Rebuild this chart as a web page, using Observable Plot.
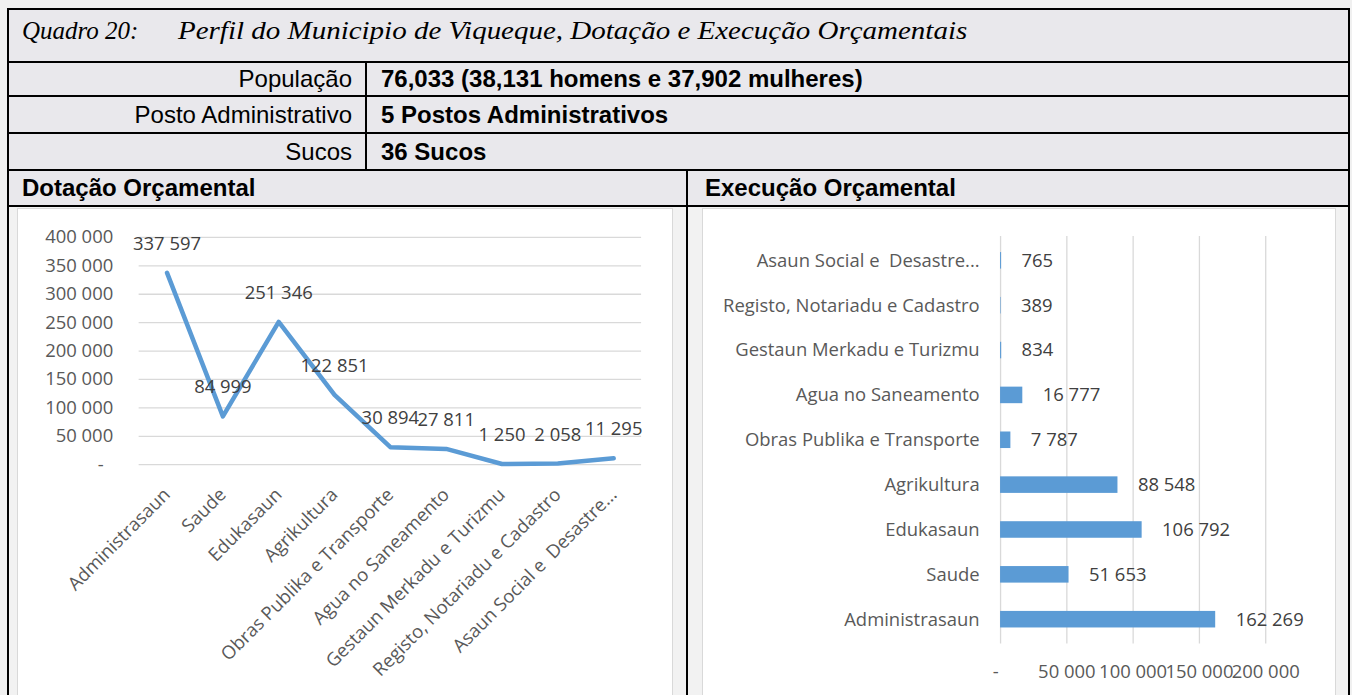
<!DOCTYPE html>
<html><head><meta charset="utf-8">
<script src="https://cdn.jsdelivr.net/npm/d3@7"></script>
<script src="https://cdn.jsdelivr.net/npm/@observablehq/plot@0.6"></script>
<style>
html,body{margin:0;padding:0;}
body{width:1352px;height:695px;overflow:hidden;position:relative;background:#f0f0f0;font-family:"Liberation Sans",Arial,sans-serif;color:#000;}
.a{position:absolute;box-sizing:border-box;}
.hl{position:absolute;height:2px;background:#000;}
.vl{position:absolute;width:2px;background:#000;}
.row{position:absolute;display:flex;align-items:center;font-size:24px;white-space:nowrap;}
.title{font-family:"Liberation Serif","Times New Roman",serif;font-style:italic;font-size:25px;}
.title span{display:inline-block;transform-origin:0 50%;}
.panel{position:absolute;background:#fff;border:1px solid #d9d9d9;box-sizing:border-box;}
</style></head>
<body>
<div class="a" style="left:7px;top:8px;width:1343px;height:198px;background:#e9e8ec;"></div>
<div class="a" style="left:7px;top:206px;width:1343px;height:500px;background:#f2f2f2;"></div>
<div class="hl" style="left:7px;top:8px;width:1343px;"></div>
<div class="hl" style="left:7px;top:61px;width:1343px;"></div>
<div class="hl" style="left:7px;top:95px;width:1343px;"></div>
<div class="hl" style="left:7px;top:132px;width:1343px;"></div>
<div class="hl" style="left:7px;top:169px;width:1343px;"></div>
<div class="hl" style="left:7px;top:205px;width:1343px;"></div>
<div class="vl" style="left:7px;top:8px;height:700px;"></div>
<div class="vl" style="left:1348px;top:8px;height:700px;"></div>
<div class="vl" style="left:365px;top:61px;height:110px;"></div>
<div class="vl" style="left:686px;top:169px;height:540px;"></div>

<div class="row title" style="left:22px;top:5px;height:51px;"><span>Quadro 20:</span><span style="position:absolute;left:156px;font-size:26px;transform:scaleX(1.115);">Perfil do Municipio de Viqueque, Dotação e Execução Orçamentais</span></div>

<div class="row" id="lab1" style="left:9px;width:343px;top:63px;height:32px;justify-content:flex-end;"></div>
<div class="row" id="val1" style="left:381px;top:63px;height:32px;font-weight:bold;"></div>
<div class="row" id="lab2" style="left:9px;width:343px;top:97px;height:35px;justify-content:flex-end;"></div>
<div class="row" id="val2" style="left:381px;top:97px;height:35px;font-weight:bold;"></div>
<div class="row" id="lab3" style="left:9px;width:343px;top:134px;height:35px;justify-content:flex-end;"></div>
<div class="row" id="val3" style="left:381px;top:134px;height:35px;font-weight:bold;"></div>
<div class="row" style="left:22px;top:171px;height:34px;font-weight:bold;">Dotação Orçamental</div>
<div class="row" style="left:705px;top:171px;height:34px;font-weight:bold;">Execução Orçamental</div>

<div class="panel" id="p1" style="left:17px;top:208px;width:656px;height:500px;"></div>
<div class="panel" id="p2" style="left:702px;top:208px;width:634px;height:500px;"></div>

<script>
// ---- data ----
const infoLabels = ["População", "Posto Administrativo", "Sucos"];
const infoValues = ["76,033 (38,131 homens e 37,902 mulheres)", "5 Postos Administrativos", "36 Sucos"];

const dotCats = ["Administrasaun","Saude","Edukasaun","Agrikultura","Obras Publika e Transporte","Agua no Saneamento","Gestaun Merkadu e Turizmu","Registo, Notariadu e Cadastro","Asaun Social e  Desastre..."];
const dotValues = [337597, 84999, 251346, 122851, 30894, 27811, 1250, 2058, 11295];
const dotTicks = [0, 50000, 100000, 150000, 200000, 250000, 300000, 350000, 400000];

const exeCats = ["Administrasaun","Saude","Edukasaun","Agrikultura","Obras Publika e Transporte","Agua no Saneamento","Gestaun Merkadu e Turizmu","Registo, Notariadu e Cadastro","Asaun Social e  Desastre..."];
const exeValues = [162269, 51653, 106792, 88548, 7787, 16777, 834, 389, 765];
const exeTicks = [0, 50000, 100000, 150000, 200000];

infoLabels.forEach((t,i)=>{document.getElementById("lab"+(i+1)).textContent=t;});
infoValues.forEach((t,i)=>{document.getElementById("val"+(i+1)).textContent=t;});

const fmt = d3.formatLocale({thousands:" ", grouping:[3], decimal:","}).format(",");
const tf = d => d === 0 ? "-\u00a0\u00a0" : fmt(d);
const FONT = "'Open Sans', sans-serif";
const FS = 18.5;
const GRID = "#d9d9d9", BLUE = "#5b9bd5", AX = "#595959", LBL = "#404040";

const dotData = dotCats.map((c,i)=>({cat:c, v:dotValues[i]}));
const exeData = exeCats.map((c,i)=>({cat:c, v:exeValues[i]}));

const c1 = Plot.plot({
  width:656, height:487, marginLeft:121, marginRight:31, marginTop:28, marginBottom:231,
  style:{fontFamily:FONT, fontSize:FS+"px", background:"transparent", overflow:"visible"},
  x:{type:"point", domain:dotCats, padding:0.5, label:null},
  y:{domain:[0,400000], label:null},
  marks:[
    Plot.ruleY(dotTicks, {stroke:GRID, strokeWidth:1.3}),
    Plot.axisY(dotTicks, {tickSize:0, tickPadding:26, tickFormat:tf, fill:AX, fontSize:FS, label:null}),
    Plot.axisX({tickSize:0, tickRotate:-45, tickPadding:27, fill:AX, fontSize:FS, label:null}),
    Plot.line(dotData, {x:"cat", y:"v", stroke:BLUE, strokeWidth:4.5, strokeLinejoin:"round", strokeLinecap:"round"}),
    Plot.text(dotData, {x:"cat", y:"v", text:d=>fmt(d.v), dy:-29, fill:LBL, fontSize:FS})
  ]
});
c1.style.position="absolute"; c1.style.left="0px"; c1.style.top="0px";
document.getElementById("p1").appendChild(c1);

const c2 = Plot.plot({
  width:634, height:487, marginLeft:298, marginRight:70, marginTop:27, marginBottom:51,
  style:{fontFamily:FONT, fontSize:FS+"px", background:"transparent", overflow:"visible"},
  x:{domain:[0,200000], label:null},
  y:{type:"band", domain:exeCats, reverse:true, padding:0, label:null},
  marks:[
    Plot.ruleX(exeTicks, {stroke:GRID, strokeWidth:1.3}),
    Plot.barX(exeData, {x:"v", y:"cat", fill:BLUE, insetTop:14.2, insetBottom:14.2}),
    Plot.text(exeData, {x:"v", y:"cat", text:d=>fmt(d.v), dx:20, textAnchor:"start", fill:LBL, fontSize:FS}),
    Plot.axisY({tickSize:0, tickPadding:21, fill:AX, fontSize:FS, label:null}),
    Plot.axisX(exeTicks, {tickSize:0, tickPadding:21, tickFormat:tf, fill:AX, fontSize:FS, label:null})
  ]
});
c2.style.position="absolute"; c2.style.left="0px"; c2.style.top="0px";
document.getElementById("p2").appendChild(c2);
</script>
</body></html>
